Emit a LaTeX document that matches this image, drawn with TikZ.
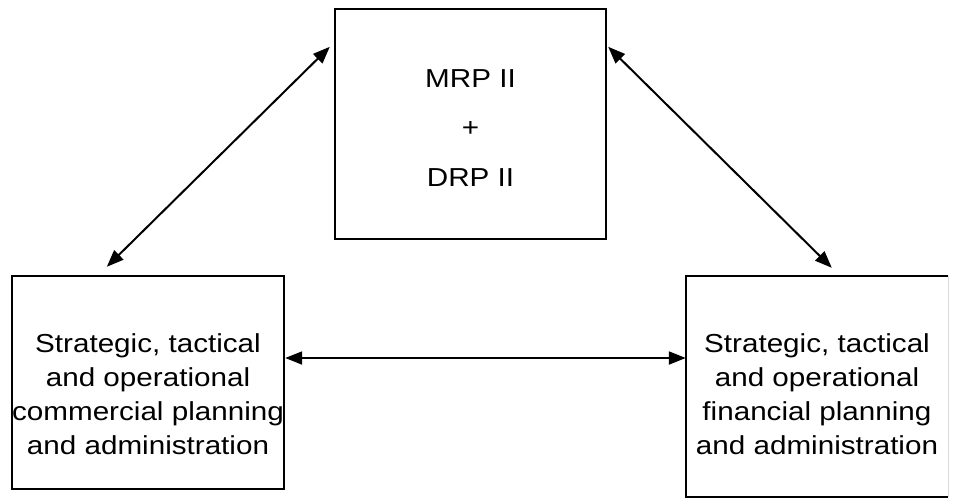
\documentclass[tikz,border=0pt]{standalone}
\usepackage{fontspec}
\setmainfont{Liberation Sans}[FakeStretch=1.14]
\usetikzlibrary{arrows.meta}

\tikzset{
  box/.style={rectangle, draw=black, line width=2.4pt, inner sep=0pt},
  openbox/.style={rectangle, draw=none, inner sep=0pt},
  label text/.style={align=center, inner sep=0pt, text=black,
    font=\fontsize{26}{34}\selectfont},
  link/.style={line width=2pt, draw=black,
    {Triangle[length=17pt,width=13pt]}-{Triangle[length=17pt,width=13pt]}},
}

\begin{document}
\begin{tikzpicture}[x=1pt, y=-1pt]
  \useasboundingbox (0,0) rectangle (953,499);

  % the three blocks
  \node[box, minimum width=271pt, minimum height=230pt] (t) at (470.5,124) {};
  \node[box, minimum width=272pt, minimum height=213pt] (l) at (148,382.5) {};
  \node[openbox, minimum width=262pt, minimum height=221pt] (r) at (817,386.5) {};
  \draw[line width=2.4pt, line join=miter]
    (r.north east) -- (r.north west) -- (r.south west) -- (r.south east);
  \draw[line width=1pt, black!15] (r.north east) -- (r.south east);

  % block texts
  \node[label text, font=\fontsize{26}{49.5}\selectfont] (tt) at (470.5,128)
    {MRP II\\+\\DRP II};
  \node[label text] (lt) at (148,394.5)
    {Strategic, tactical\\and operational\\commercial planning\\and administration};
  \node[label text] (rt) at (817,394.5)
    {Strategic, tactical\\and operational\\financial planning\\and administration};

  % two-way links between the blocks
  \draw[link] ([xshift=96pt,yshift=8pt]l.north west)
           -- ([xshift=-4pt,yshift=-39pt]t.north west);
  \draw[link] ([xshift=1pt,yshift=-39pt]t.north east)
           -- ([xshift=146pt,yshift=8pt]r.north west);
  \coordinate (hl) at ([yshift=24.5pt]l.east);
  \draw[link] (hl) -- (hl -| r.west);
\end{tikzpicture}
\end{document}
